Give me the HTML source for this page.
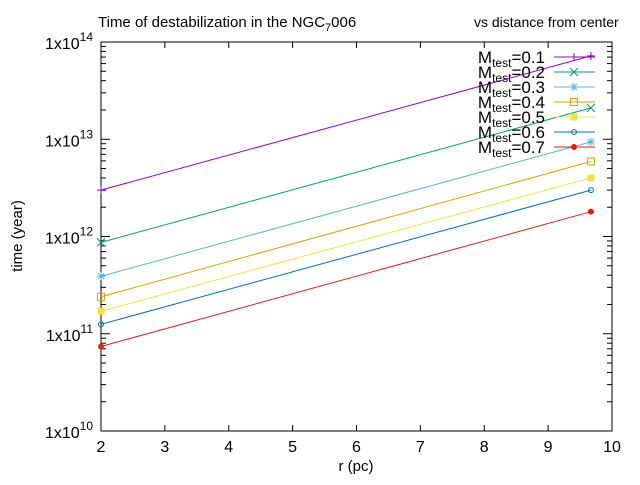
<!DOCTYPE html>
<html><head><meta charset="utf-8"><style>
body{margin:0;background:#fff;}
svg{font-family:"Liberation Sans",sans-serif;}
</style></head><body>
<svg id="chart" width="640" height="480" xmlns="http://www.w3.org/2000/svg">
<rect width="640" height="480" fill="#fff"/>
<g id="axes"></g>
<g id="series"></g>
<g id="legend"></g>
<text x="98" y="27" font-size="15">Time of destabilization in the NGC<tspan font-size="11" dy="4">7</tspan><tspan dy="-4">006</tspan></text>
<text x="474" y="27" font-size="14">vs distance from center</text>
<text x="356" y="471" font-size="15" text-anchor="middle">r (pc)</text>
<text transform="translate(22,236) rotate(-90)" font-size="15" text-anchor="middle">time (year)</text>
</svg>
<script>
const labels = ["0.1","0.2","0.3","0.4","0.5","0.6","0.7"];
const rStart = [2.0,2.0,2.0,2.0,2.0,2.0,2.0];
const rEnd = [9.67,9.67,9.67,9.67,9.67,9.67,9.67];
const tStart = [3.0e12,8.7e11,3.9e11,2.4e11,1.7e11,1.25e11,7.4e10];
const tEnd = [7.2e13,2.1e13,9.4e12,5.9e12,4.0e12,3.0e12,1.8e12];
const xTicks = [2,3,4,5,6,7,8,9,10];
const yTicks = [10,11,12,13,14];
const colors = ["#9400d3","#009e73","#56b4e9","#e69f00","#f0e442","#0072b2","#e51e10"];
const L=101,R=612,T=42,B=431;
const NS="http://www.w3.org/2000/svg";
const X=v=>L+(v-2)/8*(R-L);
const Y=v=>B-(Math.log10(v)-10)/4*(B-T);
function el(t,a,p){const e=document.createElementNS(NS,t);for(const k in a)e.setAttribute(k,a[k]);p.appendChild(e);return e;}
const ax=document.getElementById('axes');
const frame=el('rect',{x:L,y:T,width:R-L,height:B-T,fill:'none',stroke:'#000','stroke-width':1},ax);


xTicks.forEach(v=>{
  const x=X(v);
  el('line',{x1:x,y1:B,x2:x,y2:B-6,stroke:'#000'},ax);
  el('line',{x1:x,y1:T,x2:x,y2:T+6,stroke:'#000'},ax);
  const t=el('text',{x:x,y:B+21,'font-size':16,'text-anchor':'middle'},ax);
  t.textContent=v;
  
  
});
yTicks.forEach((e,i)=>{
  const y=Y(Math.pow(10,e));
  el('line',{x1:L,y1:y,x2:L+9,y2:y,stroke:'#000'},ax);
  el('line',{x1:R,y1:y,x2:R-9,y2:y,stroke:'#000'},ax);
  if(i<yTicks.length-1){for(let m=2;m<10;m++){const yy=Y(m*Math.pow(10,e));
    el('line',{x1:L,y1:yy,x2:L+5,y2:yy,stroke:'#000'},ax);
    el('line',{x1:R,y1:yy,x2:R-5,y2:yy,stroke:'#000'},ax);}}
  const t=el('text',{x:93,y:y+7,'font-size':16,'text-anchor':'end'},ax);
  t.innerHTML='1x10<tspan font-size="12" dy="-8">'+e+'</tspan>';
  
  
});
function marker(i,x,y,g){
  const c=colors[i];
  const s={stroke:c,'stroke-width':1,fill:'none'};
  if(i===0){el('path',Object.assign({d:`M${x-4},${y}h8M${x},${y-4}v8`},s),g);}
  else if(i===1){el('path',Object.assign({d:`M${x-4},${y-4}l8,8M${x-4},${y+4}l8,-8`},s),g);}
  else if(i===2){el('path',Object.assign({d:`M${x-4},${y}h8M${x},${y-4}v8M${x-3},${y-3}l6,6M${x-3},${y+3}l6,-6`},s),g);}
  else if(i===3){el('rect',Object.assign({x:x-3.5,y:y-3.5,width:7,height:7},s),g);}
  else if(i===4){el('rect',{x:x-3.5,y:y-3.5,width:7,height:7,fill:c},g);}
  else if(i===5){el('circle',Object.assign({cx:x,cy:y,r:2.5},s),g);}
  else {el('circle',{cx:x,cy:y,r:3,fill:c},g);}
}
const sg=document.getElementById('series');
labels.forEach((lab,i)=>{
  const g=el('g',{},sg);
  
  
  el('line',{x1:X(rStart[i]),y1:Y(tStart[i]),x2:X(rEnd[i]),y2:Y(tEnd[i]),stroke:colors[i],'stroke-width':1},g);
  marker(i,X(rStart[i]),Y(tStart[i]),g);
  marker(i,X(rEnd[i]),Y(tEnd[i]),g);
});
const lg=document.getElementById('legend');
labels.forEach((lab,i)=>{
  const y=57+i*15;
  const g=el('g',{},lg);
  
  
  const t=el('text',{x:545,y:y+6,'font-size':17,'text-anchor':'end'},g);
  t.innerHTML='M<tspan font-size="12" dy="4">test</tspan><tspan dy="-4">='+lab+'</tspan>';
  el('line',{x1:554,y1:y,x2:595,y2:y,stroke:colors[i]},g);
  marker(i,574,y,g);
});
</script>
</body></html>
